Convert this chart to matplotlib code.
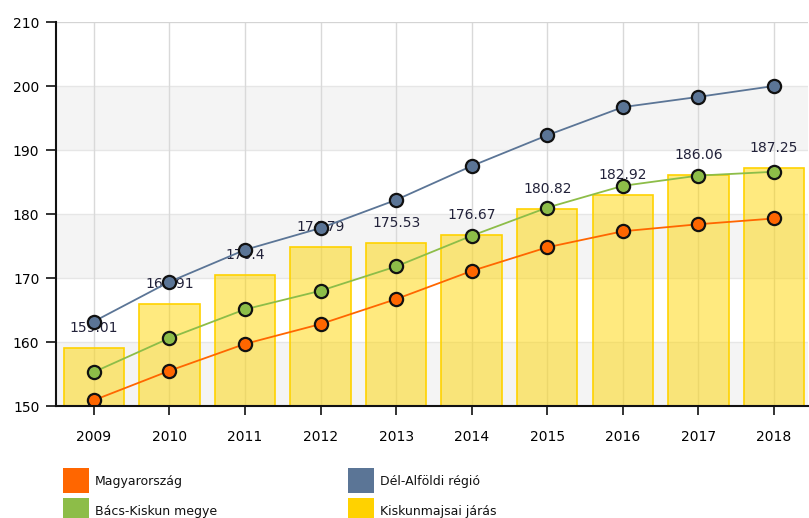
import matplotlib.pyplot as plt
from matplotlib.patches import Rectangle

# data
years = ['2009', '2010', '2011', '2012', '2013', '2014', '2015', '2016', '2017', '2018']
jaras = [159.01, 165.91, 170.4, 174.79, 175.53, 176.67, 180.82, 182.92, 186.06, 187.25]
orszag = [150.9, 155.5, 159.7, 162.8, 166.7, 171.1, 174.8, 177.3, 178.4, 179.3]
regio = [163.2, 169.4, 174.4, 177.8, 182.2, 187.5, 192.3, 196.7, 198.3, 200.0]
megye = [155.3, 160.6, 165.1, 168.0, 171.8, 176.6, 181.0, 184.4, 186.0, 186.6]

series_names = ['Magyarország', 'Dél-Alföldi régió', 'Bács-Kiskun megye', 'Kiskunmajsai járás']
col_orange = '#FF6600'
col_blue = '#5B7596'
col_green = '#8DBD48'
col_yellow = '#FFD200'

fig = plt.figure(figsize=(8.09, 5.18), dpi=100)
ax = fig.add_axes([56 / 809, 1 - 406 / 518, 752 / 809, 384 / 518])

x = list(range(len(years)))

# alternating background bands
for lo in (150, 170, 190):
    ax.axhspan(lo, lo + 10, color='#f4f4f4', zorder=0, lw=0)
for yv in range(150, 211, 10):
    ax.axhline(yv, color='#e6e6e6', lw=1, zorder=0.5)
for xv in x:
    ax.axvline(xv, color='#d9d9d9', lw=1, zorder=0.5)
ax.axhline(210, color='#d4d4d4', lw=1.5, zorder=0.6)

ax.bar(x, [v - 150 for v in jaras], bottom=150, width=0.8,
       facecolor=(1.0, 0.84, 0.0, 0.5), edgecolor=col_yellow, lw=1.2, zorder=1)

for xi, v in zip(x, jaras):
    ax.annotate(f'{v:g}', (xi, v), xytext=(0, 20), textcoords='offset pixels',
                ha='center', va='center', fontsize=10, color='#22223a', zorder=2)

for vals, c in ((regio, col_blue), (megye, col_green), (orszag, col_orange)):
    ax.plot(x, vals, color=c, lw=1.3, zorder=3, marker='o', markersize=9.5,
            markerfacecolor=c, markeredgecolor='#111111', markeredgewidth=1.6)

ax.set_xlim(-0.5, 9.45)
ax.set_ylim(150, 210)
ax.set_yticks(range(150, 211, 10))
ax.set_xticks(x)
ax.set_xticklabels(years)
ax.tick_params(axis='y', length=7, width=1.2, pad=5, labelsize=10, color='#111111')
ax.tick_params(axis='x', length=6.5, width=1.2, pad=11, labelsize=10, color='#111111')
for s in ('top', 'right'):
    ax.spines[s].set_visible(False)
for s in ('left', 'bottom'):
    ax.spines[s].set_color('#111111')
    ax.spines[s].set_linewidth(1.5)
    ax.spines[s].set_zorder(4)

# legend drawn in figure pixels
W, H = 809, 518
legend_items = [(series_names[0], col_orange, 63, 468), (series_names[1], col_blue, 348, 468),
                (series_names[2], col_green, 63, 498), (series_names[3], col_yellow, 348, 498)]
for name, c, px, py in legend_items:
    fig.patches.append(Rectangle((px / W, 1 - (py + 25) / H), 26 / W, 25 / H,
                                 transform=fig.transFigure, facecolor=c, edgecolor='none'))
    fig.text((px + 32) / W, 1 - (py + 13) / H, name, fontsize=9, va='center', ha='left',
             color='#111111')

fig.savefig('out.png', dpi=100)
